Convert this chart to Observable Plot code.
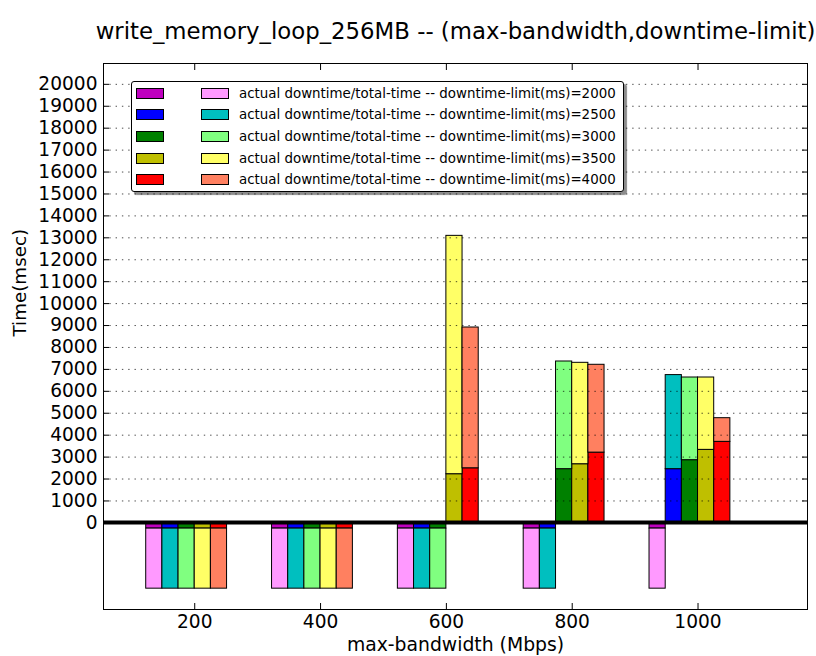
<!DOCTYPE html>
<html>
<head>
<meta charset="utf-8">
<script src="https://cdn.jsdelivr.net/npm/d3@7"></script>
<script src="https://cdn.jsdelivr.net/npm/@observablehq/plot@0.6"></script>
<style>
  html, body { margin: 0; padding: 0; background: #fff; }
  #wrap { position: relative; width: 816px; height: 656px; font-family: "DejaVu Sans", sans-serif; }
  #legend { position: absolute; left: 131px; top: 81px; width: 491px; height: 109px; border: 1px solid #000; border-radius: 3px; background: #fff; box-shadow: 3px 3px 1px rgba(0,0,0,0.45); }
  .row { position: absolute; left: 0; height: 21.7px; display: flex; align-items: center; }
  .sw { box-sizing: border-box; width: 28px; height: 11px; border: 1px solid #000; }
  .lbl { font-size: 13.4px; color: #000; white-space: nowrap; }
</style>
</head>
<body>
<div id="wrap"></div>
<script>
const title = "write_memory_loop_256MB -- (max-bandwidth,downtime-limit)";
const xLabel = "max-bandwidth (Mbps)";
const yLabel = "Time(msec)";

const bandwidths = [200, 400, 600, 800, 1000];
const limits = [2000, 2500, 3000, 3500, 4000];

// rows: downtime-limit; columns: max-bandwidth (negative = failed run marker)
const downtime = [
  [-260, -260, -260, -260, -260],
  [-260, -260, -260, -260, 2450],
  [-260, -260, -260, 2450, 2860],
  [-260, -260, 2220, 2675, 3330],
  [-260, -260, 2490, 3205, 3695]
];
const totalTime = [
  [-3000, -3000, -3000, -3000, -3000],
  [-3000, -3000, -3000, -3000, 6740],
  [-3000, -3000, -3000, 7360, 6630],
  [-3000, -3000, 13090, 7300, 6630],
  [-3000, -3000, 8910, 7210, 4775]
];

const darkColors = ["#bf00bf", "#0000ff", "#008000", "#bfbf00", "#ff0000"];
const lightColors = ["#ff99ff", "#00bfbf", "#80ff80", "#ffff66", "#ff8060"];

const xTicks = [200, 400, 600, 800, 1000];
const yTicks = d3.range(0, 20001, 1000);

const barW = 25.7;
const rows = [];
limits.forEach((lim, i) => {
  bandwidths.forEach((bw, j) => {
    rows.push({i, lim, bw, down: downtime[i][j], total: totalTime[i][j]});
  });
});
const x1 = d => d.bw + (d.i - 3) * barW;
const x2 = d => d.bw + (d.i - 2) * barW;

const font = "DejaVu Sans";

const chart = Plot.plot({
  width: 816,
  height: 656,
  marginLeft: 103,
  marginRight: 9,
  marginTop: 63,
  marginBottom: 47,
  style: {fontFamily: font, background: "#fff", overflow: "visible"},
  x: {domain: [55, 1174]},
  y: {domain: [-3950, 20950]},
  color: {type: "identity"},
  marks: [
    Plot.rectY(rows, {x1, x2, y1: 0, y2: "down", fill: d => darkColors[d.i], stroke: "#000", strokeWidth: 1}),
    Plot.rectY(rows, {x1, x2, y1: "down", y2: "total", fill: d => lightColors[d.i], stroke: "#000", strokeWidth: 1}),
    Plot.ruleY(yTicks.filter(d => d > 0), {stroke: "#000", strokeOpacity: 0.7, strokeWidth: 1, strokeDasharray: "1.4,4.9"}),
    Plot.ruleY([0], {stroke: "#000", strokeWidth: 4, dy: -0.5}),
    Plot.frame({stroke: "#000", strokeWidth: 1}),
    Plot.axisY({ticks: yTicks, tickSize: -6, tickPadding: 12, fontSize: 18.6, label: null, tickFormat: d => String(d)}),
    Plot.axisY({ticks: yTicks, anchor: "right", tickSize: -6, label: null, tickFormat: () => ""}),
    Plot.axisX({ticks: xTicks, tickSize: -6, tickPadding: 11, fontSize: 18.6, label: null, tickFormat: d => String(d)}),
    Plot.axisX({ticks: xTicks, anchor: "top", tickSize: -6, label: null, tickFormat: () => ""}),
    Plot.text([title], {frameAnchor: "top", dy: -41, fontSize: 22.8, fill: "#000"}),
    Plot.text([xLabel], {frameAnchor: "bottom", dy: 41, fontSize: 18.8, fill: "#000"}),
    Plot.text([yLabel], {frameAnchor: "left", dx: -83, rotate: -90, fontSize: 18.3, fill: "#000"})
  ]
});

const wrap = document.getElementById("wrap");
wrap.appendChild(chart);

const legend = document.createElement("div");
legend.id = "legend";
limits.forEach((lim, k) => {
  const row = document.createElement("div");
  row.className = "row";
  row.style.top = (0.2 + 21.7 * k) + "px";
  const s1 = document.createElement("span");
  s1.className = "sw"; s1.style.background = darkColors[k]; s1.style.marginLeft = "4px";
  const s2 = document.createElement("span");
  s2.className = "sw"; s2.style.background = lightColors[k]; s2.style.marginLeft = "36.7px";
  const t = document.createElement("span");
  t.className = "lbl"; t.style.marginLeft = "10.3px";
  t.textContent = "actual downtime/total-time -- downtime-limit(ms)=" + lim;
  row.append(s1, s2, t);
  legend.appendChild(row);
});
wrap.appendChild(legend);
</script>
</body>
</html>
